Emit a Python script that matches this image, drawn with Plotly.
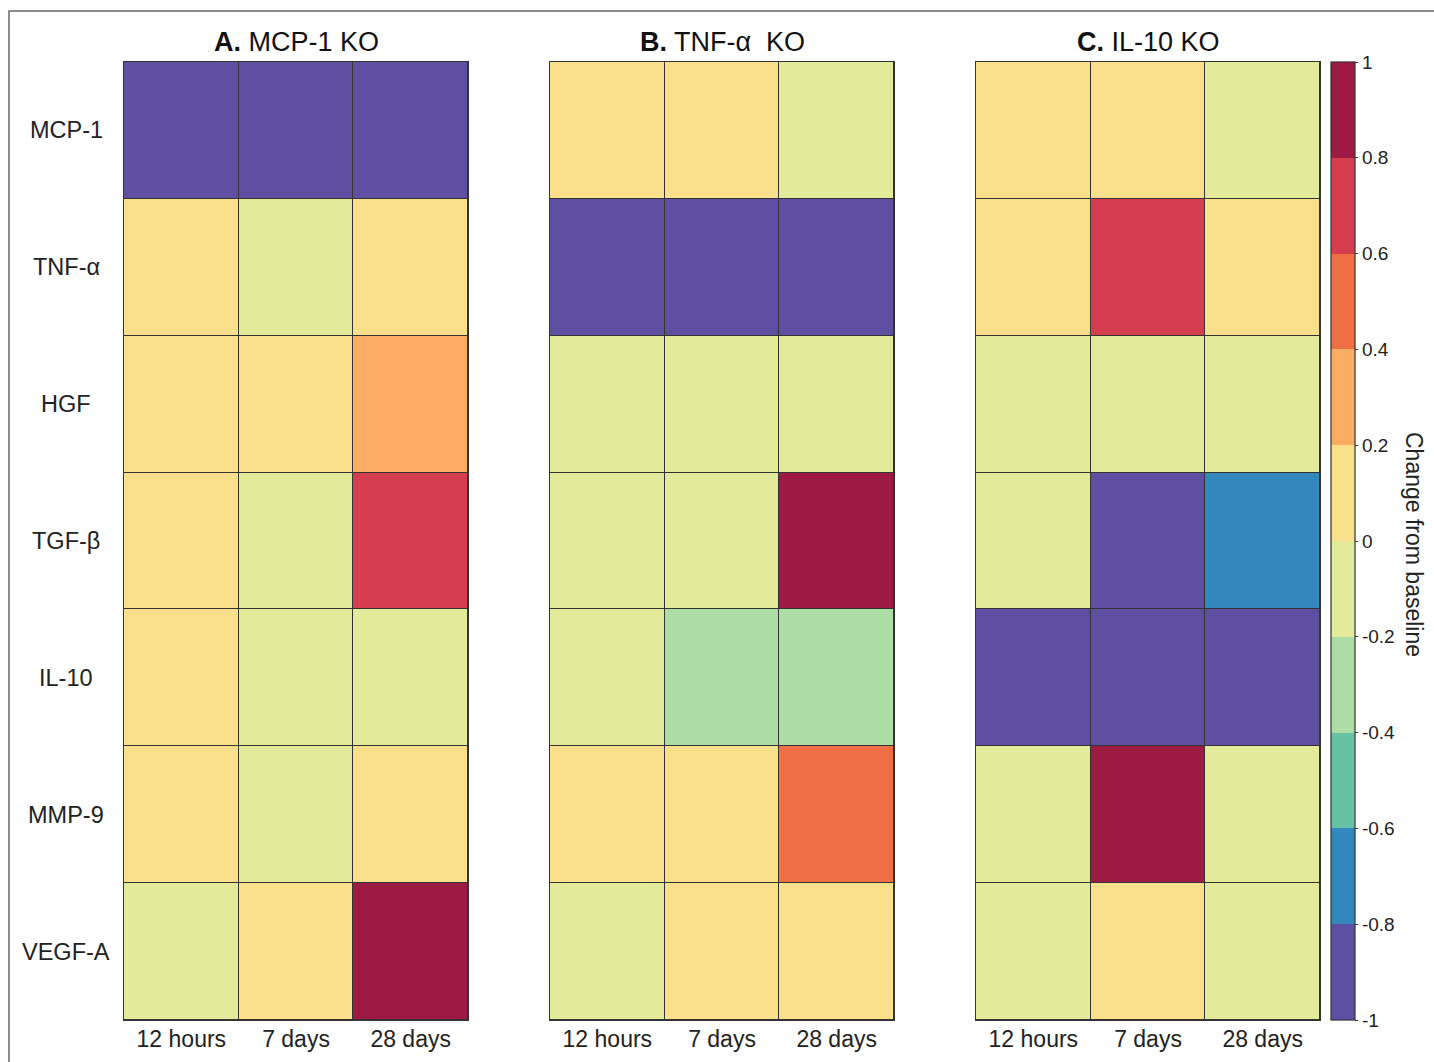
import plotly.graph_objects as go

# Row labels (cytokines / growth factors) and time points
genes = ["MCP-1", "TNF-α", "HGF", "TGF-β", "IL-10", "MMP-9", "VEGF-A"]
times = ["12 hours", "7 days", "28 days"]

# Change from baseline, one row per gene, one column per time point
mcp1_ko = [
    [-1.0, -1.0, -1.0],
    [0.1, -0.1, 0.1],
    [0.1, 0.1, 0.3],
    [0.1, -0.1, 0.7],
    [0.1, -0.1, -0.1],
    [0.1, -0.1, 0.1],
    [-0.1, 0.1, 0.9],
]
tnfa_ko = [
    [0.1, 0.1, -0.1],
    [-1.0, -1.0, -1.0],
    [-0.1, -0.1, -0.1],
    [-0.1, -0.1, 0.9],
    [-0.1, -0.3, -0.3],
    [0.1, 0.1, 0.5],
    [-0.1, 0.1, 0.1],
]
il10_ko = [
    [0.1, 0.1, -0.1],
    [0.1, 0.7, 0.1],
    [-0.1, -0.1, -0.1],
    [-0.1, -0.9, -0.7],
    [-1.0, -1.0, -1.0],
    [-0.1, 0.9, -0.1],
    [-0.1, 0.1, -0.1],
]

panel_titles = ["<b>A.</b> MCP-1 KO", "<b>B.</b> TNF-α\u00a0 KO", "<b>C.</b> IL-10 KO"]
cbar_ticks = [-1, -0.8, -0.6, -0.4, -0.2, 0, 0.2, 0.4, 0.6, 0.8, 1]
cbar_labels = ["-1", "-0.8", "-0.6", "-0.4", "-0.2", "0", "0.2", "0.4", "0.6", "0.8", "1"]

# Ten-step diverging palette, -1 .. 1
palette = ["#5E4FA2", "#3288BD", "#66C2A5", "#ABDDA4", "#E3EB9A",
           "#FBE08B", "#FBAD62", "#F06E43", "#D63E4F", "#9E1A42"]
n = len(palette)
colorscale = []
for i, c in enumerate(palette):
    colorscale.append([i / n, c])
    colorscale.append([(i + 1) / n, c])

W, H = 1434, 1062
FONT = "Liberation Sans, Arial, sans-serif"
TXT = "#222222"

x_domains = [(124 / W, 468 / W), (550 / W, 894 / W), (976 / W, 1320 / W)]
y_domain = (1 - 1020 / H, 1 - 62 / H)

fig = go.Figure()
for k, z in enumerate([mcp1_ko, tnfa_ko, il10_ko]):
    suffix = "" if k == 0 else str(k + 1)
    fig.add_trace(go.Heatmap(
        z=z, x=times, y=genes,
        xaxis="x" + suffix, yaxis="y" + suffix,
        zmin=-1, zmax=1, colorscale=colorscale,
        xgap=1, ygap=1,
        showscale=(k == 2),
        hoverongaps=False,
        colorbar=dict(
            x=1331 / W, xanchor="left", xpad=0,
            y=(y_domain[0] + y_domain[1]) / 2, yanchor="middle", ypad=0,
            len=y_domain[1] - y_domain[0], lenmode="fraction",
            thickness=24, thicknessmode="pixels",
            outlinewidth=1.2, outlinecolor="#333333",
            tickmode="array", tickvals=cbar_ticks, ticktext=cbar_labels,
            ticks="outside", ticklen=3, tickcolor="#333333",
            tickfont=dict(family=FONT, size=19, color=TXT),
        ),
    ))
    xa = dict(
        domain=x_domains[k], anchor="y" + suffix,
        showgrid=False, zeroline=False, ticks="",
        ticklabelstandoff=-2,
        showline=True, mirror=True, linecolor="#333333", linewidth=1,
        tickfont=dict(family=FONT, size=23, color=TXT),
    )
    ya = dict(
        domain=y_domain, anchor="x" + suffix,
        autorange="reversed", showgrid=False, zeroline=False, ticks="",
        showticklabels=False,
        showline=True, mirror=True, linecolor="#333333", linewidth=1,
    )
    fig.layout["xaxis" + suffix] = xa
    fig.layout["yaxis" + suffix] = ya

annotations = []
# Panel titles
for k, t in enumerate(panel_titles):
    annotations.append(dict(
        text=t, xref="paper", yref="paper",
        x=(x_domains[k][0] + x_domains[k][1]) / 2, y=1 - 42 / H,
        xanchor="center", yanchor="middle", showarrow=False,
        font=dict(family=FONT, size=27, color="#111111"),
    ))
# Row labels, centred to the left of the first panel
for g in genes:
    annotations.append(dict(
        text=g, xref="paper", yref="y", x=66 / W, y=g,
        xanchor="center", yanchor="middle", showarrow=False,
        font=dict(family=FONT, size=23.5, color=TXT),
    ))
# Colour bar title
annotations.append(dict(
    text="Change from baseline", xref="paper", yref="paper",
    x=1414 / W, y=1 - 544 / H,
    xanchor="center", yanchor="middle", textangle=90, showarrow=False,
    font=dict(family=FONT, size=23, color=TXT),
))

fig.update_layout(
    width=W, height=H,
    margin=dict(l=0, r=0, t=0, b=0),
    paper_bgcolor="white",
    plot_bgcolor="#333333",
    annotations=annotations,
    shapes=[dict(
        type="rect", xref="paper", yref="paper",
        x0=9 / W, x1=1.2, y0=-0.2, y1=1 - 11 / H,
        line=dict(color="#666666", width=1.5), fillcolor="rgba(0,0,0,0)",
        layer="below",
    )],
)

fig.write_html("out.html")
